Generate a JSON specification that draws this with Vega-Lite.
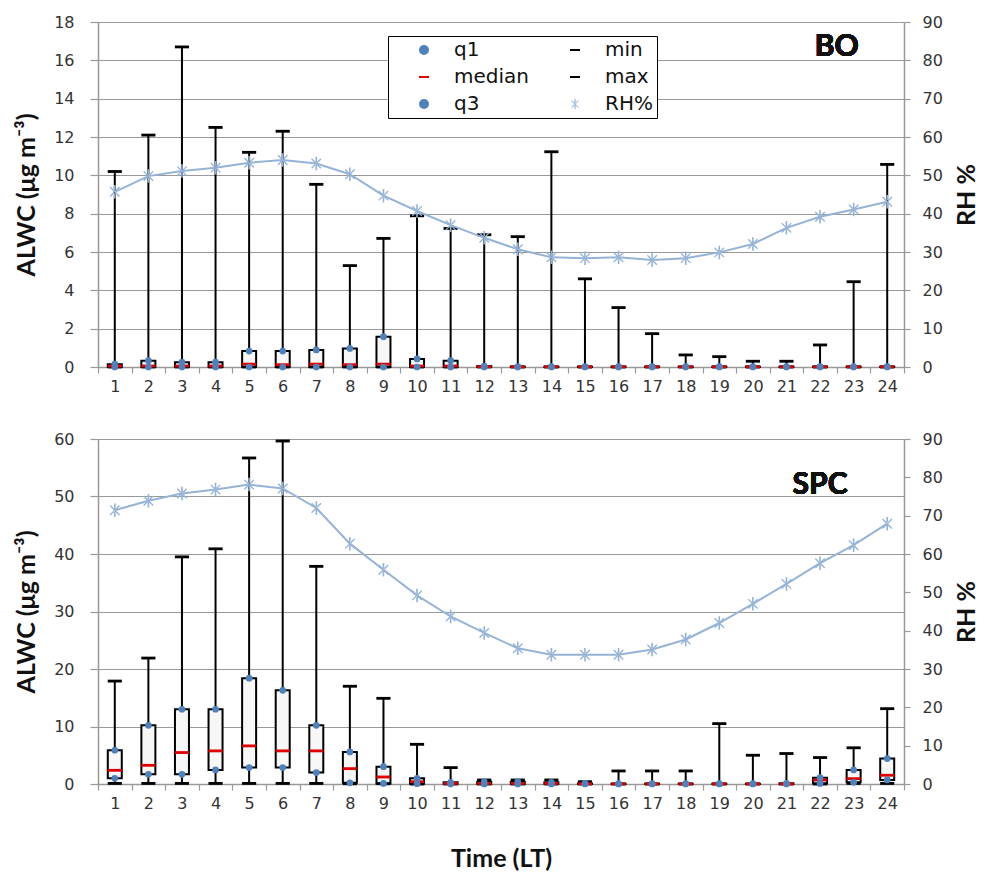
{
  "$schema": "https://vega.github.io/schema/vega-lite/v6.json",
  "background": "white",
  "padding": {"left": 14, "top": 14, "right": 10, "bottom": 6},
  "datasets": {
    "alwc": [
      {"site": "BO", "hour": 1, "min": 0, "q1": 0, "median": 0.05, "q3": 0.15, "max": 10.2, "RH%": 45.7},
      {"site": "BO", "hour": 2, "min": 0, "q1": 0, "median": 0.05, "q3": 0.33, "max": 12.1, "RH%": 49.8},
      {"site": "BO", "hour": 3, "min": 0, "q1": 0, "median": 0.05, "q3": 0.25, "max": 16.7, "RH%": 51.1},
      {"site": "BO", "hour": 4, "min": 0, "q1": 0, "median": 0.05, "q3": 0.25, "max": 12.5, "RH%": 52.0},
      {"site": "BO", "hour": 5, "min": 0, "q1": 0, "median": 0.15, "q3": 0.83, "max": 11.2, "RH%": 53.3},
      {"site": "BO", "hour": 6, "min": 0, "q1": 0, "median": 0.12, "q3": 0.83, "max": 12.3, "RH%": 54.0},
      {"site": "BO", "hour": 7, "min": 0, "q1": 0, "median": 0.15, "q3": 0.89, "max": 9.53, "RH%": 53.1},
      {"site": "BO", "hour": 8, "min": 0, "q1": 0, "median": 0.12, "q3": 0.97, "max": 5.29, "RH%": 50.3},
      {"site": "BO", "hour": 9, "min": 0, "q1": 0, "median": 0.15, "q3": 1.58, "max": 6.71, "RH%": 44.7},
      {"site": "BO", "hour": 10, "min": 0, "q1": 0, "median": 0.05, "q3": 0.42, "max": 7.89, "RH%": 40.7},
      {"site": "BO", "hour": 11, "min": 0, "q1": 0, "median": 0.05, "q3": 0.33, "max": 7.23, "RH%": 37.0},
      {"site": "BO", "hour": 12, "min": 0, "q1": 0, "median": 0.02, "q3": 0.05, "max": 6.9, "RH%": 33.7},
      {"site": "BO", "hour": 13, "min": 0, "q1": 0, "median": 0.01, "q3": 0.02, "max": 6.8, "RH%": 30.7},
      {"site": "BO", "hour": 14, "min": 0, "q1": 0, "median": 0.01, "q3": 0.02, "max": 11.23, "RH%": 28.6},
      {"site": "BO", "hour": 15, "min": 0, "q1": 0, "median": 0.01, "q3": 0.02, "max": 4.6, "RH%": 28.4},
      {"site": "BO", "hour": 16, "min": 0, "q1": 0, "median": 0.01, "q3": 0.02, "max": 3.1, "RH%": 28.6},
      {"site": "BO", "hour": 17, "min": 0, "q1": 0, "median": 0.01, "q3": 0.02, "max": 1.74, "RH%": 27.9},
      {"site": "BO", "hour": 18, "min": 0, "q1": 0, "median": 0.01, "q3": 0.02, "max": 0.63, "RH%": 28.4},
      {"site": "BO", "hour": 19, "min": 0, "q1": 0, "median": 0.01, "q3": 0.02, "max": 0.54, "RH%": 29.9},
      {"site": "BO", "hour": 20, "min": 0, "q1": 0, "median": 0.01, "q3": 0.02, "max": 0.3, "RH%": 32.1},
      {"site": "BO", "hour": 21, "min": 0, "q1": 0, "median": 0.01, "q3": 0.02, "max": 0.3, "RH%": 36.3},
      {"site": "BO", "hour": 22, "min": 0, "q1": 0, "median": 0.01, "q3": 0.02, "max": 1.15, "RH%": 39.2},
      {"site": "BO", "hour": 23, "min": 0, "q1": 0, "median": 0.01, "q3": 0.02, "max": 4.45, "RH%": 41.1},
      {"site": "BO", "hour": 24, "min": 0, "q1": 0, "median": 0.01, "q3": 0.02, "max": 10.57, "RH%": 43.1},
      {"site": "SPC", "hour": 1, "min": 0.1, "q1": 0.99, "median": 2.38, "q3": 5.87, "max": 17.9, "RH%": 71.4},
      {"site": "SPC", "hour": 2, "min": 0.1, "q1": 1.68, "median": 3.25, "q3": 10.2, "max": 21.9, "RH%": 73.9},
      {"site": "SPC", "hour": 3, "min": 0.1, "q1": 1.68, "median": 5.47, "q3": 13.0, "max": 39.5, "RH%": 75.8},
      {"site": "SPC", "hour": 4, "min": 0.1, "q1": 2.44, "median": 5.76, "q3": 13.0, "max": 40.9, "RH%": 76.8},
      {"site": "SPC", "hour": 5, "min": 0.1, "q1": 2.85, "median": 6.63, "q3": 18.4, "max": 56.7, "RH%": 78.1},
      {"site": "SPC", "hour": 6, "min": 0.1, "q1": 2.85, "median": 5.76, "q3": 16.3, "max": 59.65, "RH%": 77.1},
      {"site": "SPC", "hour": 7, "min": 0.1, "q1": 1.98, "median": 5.76, "q3": 10.2, "max": 37.85, "RH%": 72.0},
      {"site": "SPC", "hour": 8, "min": 0.05, "q1": 0.2, "median": 2.67, "q3": 5.58, "max": 17.0, "RH%": 62.7},
      {"site": "SPC", "hour": 9, "min": 0.05, "q1": 0.1, "median": 1.22, "q3": 3.02, "max": 14.9, "RH%": 55.9},
      {"site": "SPC", "hour": 10, "min": 0, "q1": 0.05, "median": 0.4, "q3": 1.0, "max": 6.9, "RH%": 49.2},
      {"site": "SPC", "hour": 11, "min": 0, "q1": 0.02, "median": 0.1, "q3": 0.3, "max": 2.85, "RH%": 43.7},
      {"site": "SPC", "hour": 12, "min": 0, "q1": 0.02, "median": 0.1, "q3": 0.4, "max": 0.7, "RH%": 39.4},
      {"site": "SPC", "hour": 13, "min": 0, "q1": 0.02, "median": 0.1, "q3": 0.4, "max": 0.7, "RH%": 35.4},
      {"site": "SPC", "hour": 14, "min": 0, "q1": 0.02, "median": 0.1, "q3": 0.3, "max": 0.7, "RH%": 33.7},
      {"site": "SPC", "hour": 15, "min": 0, "q1": 0.01, "median": 0.05, "q3": 0.1, "max": 0.4, "RH%": 33.7},
      {"site": "SPC", "hour": 16, "min": 0, "q1": 0, "median": 0.02, "q3": 0.05, "max": 2.27, "RH%": 33.7},
      {"site": "SPC", "hour": 17, "min": 0, "q1": 0, "median": 0.02, "q3": 0.05, "max": 2.27, "RH%": 35.1},
      {"site": "SPC", "hour": 18, "min": 0, "q1": 0, "median": 0.02, "q3": 0.05, "max": 2.27, "RH%": 37.7},
      {"site": "SPC", "hour": 19, "min": 0, "q1": 0, "median": 0.02, "q3": 0.05, "max": 10.5, "RH%": 42.0},
      {"site": "SPC", "hour": 20, "min": 0, "q1": 0, "median": 0.02, "q3": 0.05, "max": 5.0, "RH%": 47.0},
      {"site": "SPC", "hour": 21, "min": 0, "q1": 0, "median": 0.02, "q3": 0.1, "max": 5.3, "RH%": 52.2},
      {"site": "SPC", "hour": 22, "min": 0, "q1": 0.1, "median": 0.7, "q3": 1.1, "max": 4.6, "RH%": 57.6},
      {"site": "SPC", "hour": 23, "min": 0.1, "q1": 0.3, "median": 0.93, "q3": 2.44, "max": 6.3, "RH%": 62.3},
      {"site": "SPC", "hour": 24, "min": 0.1, "q1": 0.7, "median": 1.52, "q3": 4.42, "max": 13.1, "RH%": 67.9}
    ]
  },
  "data": {"name": "alwc"},
  "vconcat": [
    {
      "width": 806,
      "height": 345,
      "transform": [{"filter": "datum.site === 'BO'"}],
      "layer": [
        {
          "layer": [
            {
              "mark": {"type": "rule", "color": "black", "strokeWidth": 2},
              "encoding": {
                "x": {"field": "hour", "type": "ordinal", "scale": {"paddingInner": 0, "paddingOuter": 0},
                      "axis": {"title": null, "tickBand": "extent", "labelAngle": 0, "tickSize": 6, "labelPadding": 5}},
                "y": {"field": "min", "type": "quantitative", "scale": {"domain": [0, 18], "nice": false},
                      "axis": {"title": "ALWC (μg m⁻³)", "values": [0, 2, 4, 6, 8, 10, 12, 14, 16, 18], "labelOverlap": false, "grid": true, "tickSize": 8, "labelPadding": 16, "titlePadding": 14}},
                "y2": {"field": "max"}
              }
            },
            {
              "mark": {"type": "bar", "width": 14, "fill": "#f7f7f7", "stroke": "black", "strokeWidth": 2},
              "encoding": {
                "x": {"field": "hour", "type": "ordinal"},
                "y": {"field": "q1", "type": "quantitative",
                      "axis": {"title": "ALWC (μg m⁻³)", "values": [0, 2, 4, 6, 8, 10, 12, 14, 16, 18], "labelOverlap": false, "grid": true, "tickSize": 8, "labelPadding": 16, "titlePadding": 14}},
                "y2": {"field": "q3"}
              }
            },
            {
              "transform": [{"fold": ["min", "max", "median", "q1", "q3"], "as": ["stat", "value"]}],
              "mark": {"type": "point", "filled": true, "opacity": 1, "strokeWidth": 0},
              "encoding": {
                "x": {"field": "hour", "type": "ordinal"},
                "y": {"field": "value", "type": "quantitative",
                      "axis": {"title": "ALWC (μg m⁻³)", "values": [0, 2, 4, 6, 8, 10, 12, 14, 16, 18], "labelOverlap": false, "grid": true, "tickSize": 8, "labelPadding": 16, "titlePadding": 14}},
                "color": {"field": "stat", "type": "nominal",
                  "scale": {"domain": ["q1", "median", "q3", "min", "max", "RH%"], "range": ["#4f81bd", "#e00000", "#4f81bd", "#000000", "#000000", "#95b3d7"]},
                  "legend": {"orient": "none", "legendX": 290, "legendY": 14, "columns": 2, "title": null, "gridAlign": "all",
                    "strokeColor": "black", "fillColor": "white", "padding": 4,
                    "labelFont": "DejaVu Sans", "labelFontSize": 20, "labelColor": "#111",
                    "rowPadding": 7, "columnPadding": 14, "labelOffset": 20, "symbolOffset": 22,
                    "encode": {"symbols": {"update": {
                      "shape": {"signal": "datum.value === 'RH%' ? 'M-4,-0.16L4,-0.16L4,0.16L-4,0.16Z M-0.12,-1L0.12,-1L0.12,1L-0.12,1Z M-0.63,-0.77L0.77,0.63L0.63,0.77L-0.77,-0.63Z M-0.63,0.77L0.77,-0.63L0.63,-0.77L-0.77,0.63Z' : (datum.value === 'q1' || datum.value === 'q3') ? 'circle' : 'M-1,-0.22L1,-0.22L1,0.22L-1,0.22Z'"},
                      "size": {"signal": "datum.value === 'RH%' ? 110 : (datum.value === 'q1' || datum.value === 'q3') ? 40 : 180"}}}}}},
                "shape": {"field": "stat", "type": "nominal", "legend": null,
                  "scale": {"domain": ["q1", "median", "q3", "min", "max", "RH%"], "range": ["circle", "M-1,-0.2L1,-0.2L1,0.2L-1,0.2Z", "circle", "M-1,-0.2L1,-0.2L1,0.2L-1,0.2Z", "M-1,-0.2L1,-0.2L1,0.2L-1,0.2Z", "M-0.12,-1L0.12,-1L0.12,1L-0.12,1Z M-0.63,-0.77L0.77,0.63L0.63,0.77L-0.77,-0.63Z M-0.63,0.77L0.77,-0.63L0.63,-0.77L-0.77,0.63Z"]}},
                "size": {"field": "stat", "type": "nominal", "legend": null,
                  "scale": {"type": "ordinal", "domain": ["q1", "median", "q3", "min", "max", "RH%"], "range": [45, 200, 45, 200, 200, 110]}}
              }
            },
            {
              "mark": {"type": "text", "text": "BO", "font": "Lato", "fontWeight": "bold", "fontSize": 30, "baseline": "middle", "align": "center", "color": "#111"},
              "encoding": {
                "x": {"datum": 22, "type": "ordinal", "bandPosition": 1},
                "y": {"datum": 16.7, "type": "quantitative",
                      "axis": {"title": "ALWC (μg m⁻³)", "values": [0, 2, 4, 6, 8, 10, 12, 14, 16, 18], "labelOverlap": false, "grid": true, "tickSize": 8, "labelPadding": 16, "titlePadding": 14}}
              }
            }
          ]
        },
        {
          "transform": [{"fold": ["RH%"], "as": ["stat", "value"]}],
          "layer": [
            {
              "mark": {"type": "line", "color": "#95b3d7", "strokeWidth": 2},
              "encoding": {
                "x": {"field": "hour", "type": "ordinal"},
                "y": {"field": "value", "type": "quantitative", "scale": {"domain": [0, 90], "nice": false},
                      "axis": {"orient": "right", "title": "RH %", "values": [0, 10, 20, 30, 40, 50, 60, 70, 80, 90], "labelOverlap": false, "grid": false, "tickSize": 6, "labelPadding": 12, "titleAngle": 270, "titleBaseline": "top", "titlePadding": 12}}
              }
            },
            {
              "mark": {"type": "point", "filled": true, "opacity": 1, "strokeWidth": 0},
              "encoding": {
                "x": {"field": "hour", "type": "ordinal"},
                "y": {"field": "value", "type": "quantitative",
                      "axis": {"orient": "right", "title": "RH %", "values": [0, 10, 20, 30, 40, 50, 60, 70, 80, 90], "labelOverlap": false, "grid": false, "tickSize": 6, "labelPadding": 12, "titleAngle": 270, "titleBaseline": "top", "titlePadding": 12}},
                "color": {"field": "stat", "type": "nominal", "legend": null},
                "shape": {"field": "stat", "type": "nominal", "legend": null},
                "size": {"field": "stat", "type": "nominal", "legend": null}
              }
            }
          ]
        }
      ],
      "resolve": {"scale": {"y": "independent"}}
    },
    {
      "width": 806,
      "height": 345,
      "transform": [{"filter": "datum.site === 'SPC'"}],
      "layer": [
        {
          "layer": [
            {
              "mark": {"type": "rule", "color": "black", "strokeWidth": 2},
              "encoding": {
                "x": {"field": "hour", "type": "ordinal", "scale": {"paddingInner": 0, "paddingOuter": 0},
                      "axis": {"title": "Time (LT)", "tickBand": "extent", "labelAngle": 0, "tickSize": 6, "labelPadding": 5, "titlePadding": 35}},
                "y": {"field": "min", "type": "quantitative", "scale": {"domain": [0, 60], "nice": false},
                      "axis": {"title": "ALWC (μg m⁻³)", "values": [0, 10, 20, 30, 40, 50, 60], "labelOverlap": false, "grid": true, "tickSize": 8, "labelPadding": 16, "titlePadding": 14}},
                "y2": {"field": "max"}
              }
            },
            {
              "mark": {"type": "bar", "width": 14, "fill": "#f7f7f7", "stroke": "black", "strokeWidth": 2},
              "encoding": {
                "x": {"field": "hour", "type": "ordinal"},
                "y": {"field": "q1", "type": "quantitative",
                      "axis": {"title": "ALWC (μg m⁻³)", "values": [0, 10, 20, 30, 40, 50, 60], "labelOverlap": false, "grid": true, "tickSize": 8, "labelPadding": 16, "titlePadding": 14}},
                "y2": {"field": "q3"}
              }
            },
            {
              "transform": [{"fold": ["min", "max", "median", "q1", "q3"], "as": ["stat", "value"]}],
              "mark": {"type": "point", "filled": true, "opacity": 1, "strokeWidth": 0},
              "encoding": {
                "x": {"field": "hour", "type": "ordinal"},
                "y": {"field": "value", "type": "quantitative",
                      "axis": {"title": "ALWC (μg m⁻³)", "values": [0, 10, 20, 30, 40, 50, 60], "labelOverlap": false, "grid": true, "tickSize": 8, "labelPadding": 16, "titlePadding": 14}},
                "color": {"field": "stat", "type": "nominal", "legend": null,
                  "scale": {"domain": ["q1", "median", "q3", "min", "max", "RH%"], "range": ["#4f81bd", "#e00000", "#4f81bd", "#000000", "#000000", "#95b3d7"]}},
                "shape": {"field": "stat", "type": "nominal", "legend": null,
                  "scale": {"domain": ["q1", "median", "q3", "min", "max", "RH%"], "range": ["circle", "M-1,-0.2L1,-0.2L1,0.2L-1,0.2Z", "circle", "M-1,-0.2L1,-0.2L1,0.2L-1,0.2Z", "M-1,-0.2L1,-0.2L1,0.2L-1,0.2Z", "M-0.12,-1L0.12,-1L0.12,1L-0.12,1Z M-0.63,-0.77L0.77,0.63L0.63,0.77L-0.77,-0.63Z M-0.63,0.77L0.77,-0.63L0.63,-0.77L-0.77,0.63Z"]}},
                "size": {"field": "stat", "type": "nominal", "legend": null,
                  "scale": {"type": "ordinal", "domain": ["q1", "median", "q3", "min", "max", "RH%"], "range": [45, 200, 45, 200, 200, 110]}}
              }
            },
            {
              "mark": {"type": "text", "text": "SPC", "font": "Lato", "fontWeight": "bold", "fontSize": 30, "baseline": "middle", "align": "center", "color": "#111"},
              "encoding": {
                "x": {"datum": 22, "type": "ordinal"},
                "y": {"datum": 52, "type": "quantitative",
                      "axis": {"title": "ALWC (μg m⁻³)", "values": [0, 10, 20, 30, 40, 50, 60], "labelOverlap": false, "grid": true, "tickSize": 8, "labelPadding": 16, "titlePadding": 14}}
              }
            }
          ]
        },
        {
          "transform": [{"fold": ["RH%"], "as": ["stat", "value"]}],
          "layer": [
            {
              "mark": {"type": "line", "color": "#95b3d7", "strokeWidth": 2},
              "encoding": {
                "x": {"field": "hour", "type": "ordinal"},
                "y": {"field": "value", "type": "quantitative", "scale": {"domain": [0, 90], "nice": false},
                      "axis": {"orient": "right", "title": "RH %", "values": [0, 10, 20, 30, 40, 50, 60, 70, 80, 90], "labelOverlap": false, "grid": false, "tickSize": 6, "labelPadding": 12, "titleAngle": 270, "titleBaseline": "top", "titlePadding": 12}}
              }
            },
            {
              "mark": {"type": "point", "filled": true, "opacity": 1, "strokeWidth": 0},
              "encoding": {
                "x": {"field": "hour", "type": "ordinal"},
                "y": {"field": "value", "type": "quantitative",
                      "axis": {"orient": "right", "title": "RH %", "values": [0, 10, 20, 30, 40, 50, 60, 70, 80, 90], "labelOverlap": false, "grid": false, "tickSize": 6, "labelPadding": 12, "titleAngle": 270, "titleBaseline": "top", "titlePadding": 12}},
                "color": {"field": "stat", "type": "nominal", "legend": null},
                "shape": {"field": "stat", "type": "nominal", "legend": null},
                "size": {"field": "stat", "type": "nominal", "legend": null}
              }
            }
          ]
        }
      ],
      "resolve": {"scale": {"y": "independent"}}
    }
  ],
  "spacing": 72,
  "bounds": "flush",
  "resolve": {"scale": {"color": "independent", "shape": "independent", "size": "independent"}},
  "config": {
    "view": {"stroke": null},
    "axis": {
      "labelFont": "DejaVu Sans", "labelFontSize": 16, "labelColor": "#333",
      "labelOverlap": false, "labelFlush": false,
      "titleFont": "Lato", "titleFontSize": 25, "titleFontWeight": "bold", "titleColor": "#111",
      "domainColor": "#999", "tickColor": "#999", "gridColor": "#999",
      "domainWidth": 1.5, "gridWidth": 1.2, "tickWidth": 1.2
    }
  }
}
